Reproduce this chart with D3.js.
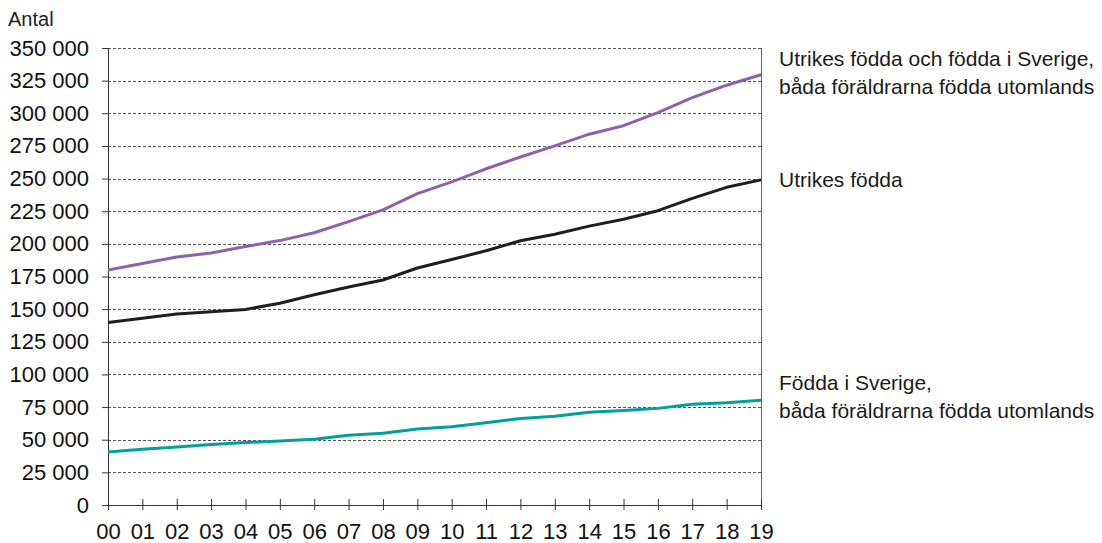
<!DOCTYPE html>
<html>
<head>
<meta charset="utf-8">
<script src="https://cdn.jsdelivr.net/npm/d3@7"></script>
<style>
  body { margin: 0; background: #fff; }
  svg { display: block; font-family: "Liberation Sans", Arial, sans-serif; }
</style>
</head>
<body>
<svg id="chart" width="1102" height="543"></svg>
<script>
const years = ["00","01","02","03","04","05","06","07","08","09","10","11","12","13","14","15","16","17","18","19"];
const utrikesOchSverige = [180000,185000,190000,193000,198000,202500,208500,217000,226000,238500,247500,257500,266500,275000,284000,290500,300500,312000,321500,329500];
const utrikesFodda = [139800,143000,146200,148000,149800,154500,161000,167000,172300,181500,188000,194700,202400,207300,213600,218800,225400,234800,243300,249000];
const foddaISverige = [40500,42700,44500,46300,47800,49100,50300,53500,54900,58200,60000,63000,66200,67900,71000,72400,74000,77200,78400,80300];
const yTicks = [0,25000,50000,75000,100000,125000,150000,175000,200000,225000,250000,275000,300000,325000,350000];

const series = [
  { name: "utrikesOchSverige", values: utrikesOchSverige, color: "#9060aa", labels: ["Utrikes födda och födda i Sverige,", "båda föräldrarna födda utomlands"], ly: 66 },
  { name: "utrikesFodda", values: utrikesFodda, color: "#1e1e1e", labels: ["Utrikes födda"], ly: 187 },
  { name: "foddaISverige", values: foddaISverige, color: "#00a19a", labels: ["Födda i Sverige,", "båda föräldrarna födda utomlands"], ly: 390 }
];

const svg = d3.select("#chart");
const pLeft = 108, pRight = 761, pTop = 48, pBottom = 505;

const x = d3.scalePoint().domain(years).range([pLeft, pRight]);
const y = d3.scaleLinear().domain([0, 350000]).range([pBottom, pTop]);

const fmt = v => d3.format(",")(v).replace(/,/g, " ");

// gridlines
svg.append("g").selectAll("line").data(yTicks.filter(d => d > 0)).join("line")
  .attr("x1", pLeft).attr("x2", pRight)
  .attr("y1", d => Math.round(y(d)) + 0.5).attr("y2", d => Math.round(y(d)) + 0.5)
  .attr("stroke", "#555").attr("stroke-width", 1).attr("stroke-dasharray", "3,2");

// right border
svg.append("line").attr("x1", pRight + 0.5).attr("x2", pRight + 0.5)
  .attr("y1", pTop).attr("y2", pBottom).attr("stroke", "#666").attr("stroke-width", 1);

// y axis
const yAxis = d3.axisLeft(y).tickValues(yTicks).tickFormat(fmt).tickSize(6).tickPadding(13);
const gy = svg.append("g").attr("transform", `translate(${pLeft},0)`).call(yAxis);
gy.select(".domain").attr("stroke", "#333").attr("d", `M0.5,${pTop}V${pBottom}`);
gy.selectAll(".tick line").attr("stroke", "#333");
gy.selectAll(".tick text").attr("font-size", 22).attr("fill", "#111")
  .attr("font-family", "Liberation Sans, Arial, sans-serif");

// x axis
const xAxis = d3.axisBottom(x).tickSize(5).tickPadding(13);
const gx = svg.append("g").attr("transform", `translate(0,${pBottom})`).call(xAxis);
gx.select(".domain").attr("stroke", "#333").attr("d", `M${pLeft},0.5H${pRight}`);
gx.selectAll(".tick line").attr("stroke", "#333").attr("y1", -6).attr("y2", 5);
gx.selectAll(".tick text").attr("font-size", 22).attr("fill", "#111")
  .attr("font-family", "Liberation Sans, Arial, sans-serif");

// lines
const line = d3.line().x((d, i) => x(years[i])).y(d => y(d));
series.forEach(s => {
  svg.append("path").datum(s.values).attr("d", line)
    .attr("fill", "none").attr("stroke", s.color).attr("stroke-width", 3)
    .attr("stroke-linejoin", "round");
  const t = svg.append("text").attr("x", 779).attr("y", s.ly)
    .attr("font-size", 21).attr("fill", "#1a1a1a");
  s.labels.forEach((l, i) => {
    t.append("tspan").attr("x", 779).attr("dy", i === 0 ? 0 : 28).text(l);
  });
});

// unit label
svg.append("text").attr("x", 8).attr("y", 26).attr("font-size", 20).attr("fill", "#222").text("Antal");
</script>
</body>
</html>
